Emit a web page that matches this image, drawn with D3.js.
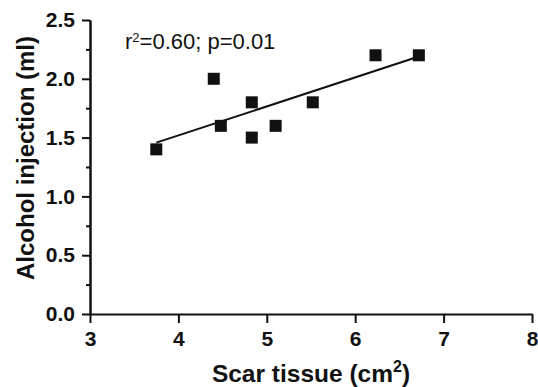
<!DOCTYPE html>
<head>
  <script src="https://cdnjs.cloudflare.com/ajax/libs/d3/7.8.5/d3.min.js"></script>
</head>
<style media="screen">
  body { margin: 0; background: #fff; }
  .axis path, .axis line { stroke: #111; stroke-width: 2px; }
  .fit { stroke: #111; stroke-width: 2px; }
</style>
<body>
<script type="text/javascript">
// values
var scar = [3.75, 4.4, 4.48, 4.83, 4.83, 5.1, 5.52, 6.23, 6.72];
var alcohol = [1.4, 2.0, 1.6, 1.8, 1.5, 1.6, 1.8, 2.2, 2.2];
var xTicks = [3, 4, 5, 6, 7, 8];
var yTicks = [0, 0.5, 1.0, 1.5, 2.0, 2.5];
var yMinor = [0.25, 0.75, 1.25, 1.75, 2.25];

var W = 538, H = 387;
var margin = {top: 20, right: 6, bottom: 73, left: 90};
var width = W - margin.left - margin.right,
    height = H - margin.top - margin.bottom;
var font = "'Liberation Sans', Arial, sans-serif";

var x = d3.scaleLinear().domain([3, 8]).range([0, width]);
var y = d3.scaleLinear().domain([0, 2.5]).range([height, 0]);

var svg = d3.select("body").append("svg")
    .attr("width", W)
    .attr("height", H)
    .style("font-family", font)
  .append("g")
    .attr("transform", "translate(" + margin.left + "," + margin.top + ")");

// axes
var gx = svg.append("g")
    .attr("class", "axis")
    .attr("transform", "translate(0," + height + ")")
    .call(d3.axisBottom(x).tickValues(xTicks).tickFormat(d3.format("d")).tickSizeInner(9).tickSizeOuter(0).tickPadding(8));

svg.append("g")
    .attr("class", "axis")
    .call(d3.axisLeft(y).tickValues(yMinor).tickFormat("").tickSizeInner(4).tickSizeOuter(0));

var gy = svg.append("g")
    .attr("class", "axis")
    .call(d3.axisLeft(y).tickValues(yTicks).tickFormat(d3.format(".1f")).tickSizeInner(8).tickSizeOuter(0).tickPadding(7));

[gx, gy].forEach((g) => {
  g.attr("font-family", font);
  g.selectAll("text")
      .style("font-size", "21px")
      .style("font-weight", "bold")
      .style("fill", "#111");
});

// regression line
var mx = d3.mean(scar), my = d3.mean(alcohol);
var sxy = d3.sum(scar, (d, i) => (d - mx) * (alcohol[i] - my)),
    sxx = d3.sum(scar, (d) => (d - mx) * (d - mx));
var slope = sxy / sxx, icpt = my - slope * mx;
var x0 = d3.min(scar), x1 = d3.max(scar);

svg.append("line")
    .attr("class", "fit")
    .attr("x1", x(x0)).attr("y1", y(icpt + slope * x0))
    .attr("x2", x(x1)).attr("y2", y(icpt + slope * x1));

// points
var s = 12;
svg.selectAll(".pt")
    .data(scar)
  .enter().append("rect")
    .attr("class", "pt")
    .attr("x", (d) => x(d) - s / 2)
    .attr("y", (d, i) => y(alcohol[i]) - s / 2)
    .attr("width", s)
    .attr("height", s)
    .attr("fill", "#111");

// annotation
var ann = svg.append("text")
    .attr("x", 35)
    .attr("y", 29)
    .style("font-size", "22px")
    .style("fill", "#111");
ann.append("tspan").text("r");
ann.append("tspan").attr("dy", -7).style("font-size", "13px").text("2");
ann.append("tspan").attr("dy", 7).text("=0.60; p=0.01");

// axis titles
var xt = svg.append("text")
    .attr("x", width / 2)
    .attr("y", height + 68)
    .style("text-anchor", "middle")
    .style("font-size", "24.5px")
    .style("font-weight", "bold")
    .style("fill", "#111");
xt.append("tspan").text("Scar tissue (cm");
xt.append("tspan").attr("dy", -10).style("font-size", "16px").text("2");
xt.append("tspan").attr("dy", 10).text(")");

svg.append("text")
    .attr("transform", "rotate(-90)")
    .attr("y", 34 - margin.left)
    .attr("x", -138)
    .style("text-anchor", "middle")
    .style("font-size", "24px")
    .style("font-weight", "bold")
    .style("fill", "#111")
    .text("Alcohol injection (ml)");
</script>
</body>
